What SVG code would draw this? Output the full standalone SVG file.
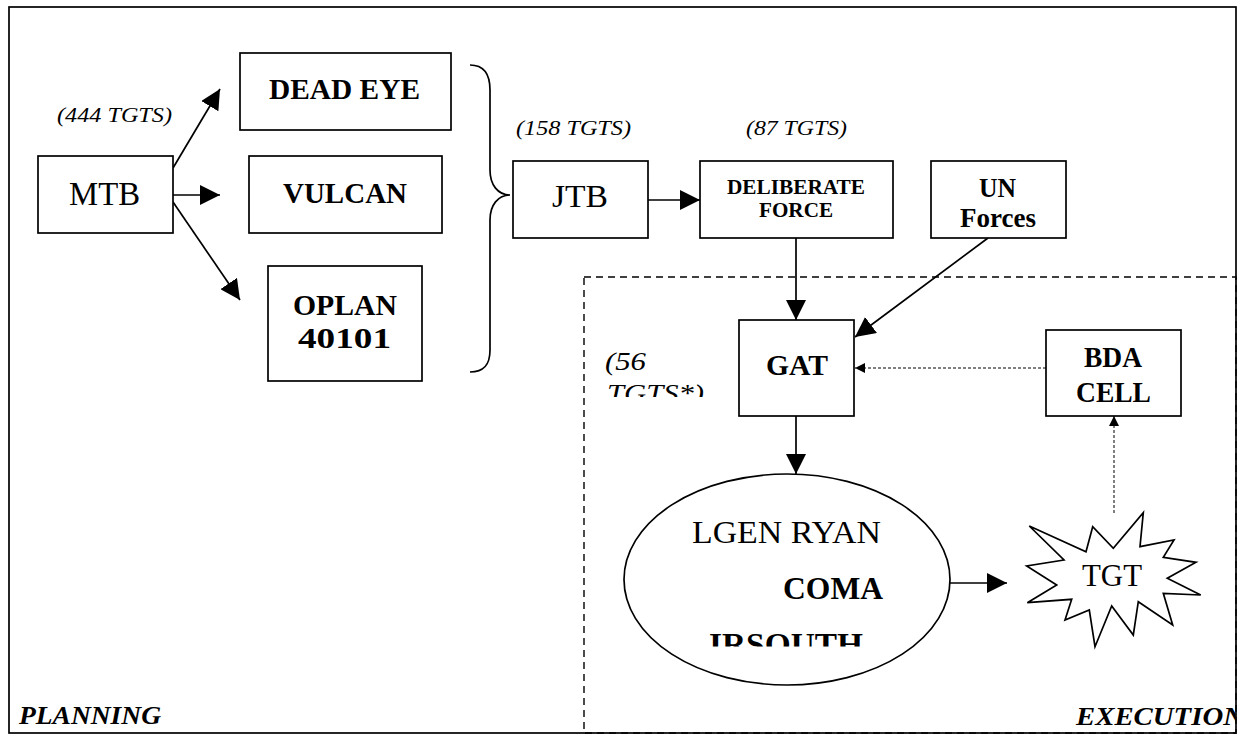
<svg xmlns="http://www.w3.org/2000/svg" width="1238" height="738" viewBox="0 0 1238 738">
<style>
text{font-family:"Liberation Serif","Times New Roman",serif;fill:#000}
.b{font-weight:bold}
.i{font-style:italic}
.box{fill:#fff;stroke:#000;stroke-width:1.7}
.ln{fill:none;stroke:#000;stroke-width:1.7}
.dl{fill:none;stroke:#000;stroke-width:1;stroke-dasharray:3,2}
</style>
<defs>
<marker id="ah" markerWidth="20" markerHeight="20" refX="20" refY="10" orient="auto" markerUnits="userSpaceOnUse" viewBox="0 0 20 20">
<path d="M0,0 L20,10 L0,20 Z" fill="#000"/>
</marker>
<marker id="ahs" markerWidth="10" markerHeight="10" refX="10" refY="5" orient="auto" markerUnits="userSpaceOnUse" viewBox="0 0 10 10">
<path d="M0,0 L10,5 L0,10 Z" fill="#000"/>
</marker>
<clipPath id="c56"><rect x="595" y="340" width="120" height="57"/></clipPath>
<clipPath id="cir"><rect x="690" y="620" width="200" height="26.5"/></clipPath>
<clipPath id="cex"><rect x="1000" y="690" width="235.5" height="45"/></clipPath>
</defs>
<rect x="0" y="0" width="1238" height="738" fill="#fff"/>
<g id="frame">
<rect x="9" y="7" width="1227" height="726" fill="none" stroke="#000" stroke-width="1.7"/>
<rect id="execution-area" x="584" y="277" width="652" height="456" fill="none" stroke="#000" stroke-width="1.4" stroke-dasharray="7,5"/>
</g>
<g id="connectors">
<line class="ln" x1="173" y1="168" x2="220" y2="89" marker-end="url(#ah)"/>
<line class="ln" x1="173" y1="195" x2="220" y2="195" marker-end="url(#ah)"/>
<line class="ln" x1="173" y1="202" x2="240" y2="300" marker-end="url(#ah)"/>
<path class="ln" d="M470,65 C484,65 490,75 490,90 L490,170 C490,185 498,195 510,195 C498,195 490,205 490,220 L490,350 C490,365 484,372 470,372"/>
<line class="ln" x1="648" y1="200" x2="700" y2="200" marker-end="url(#ah)"/>
<line class="ln" x1="796" y1="238" x2="796" y2="320" marker-end="url(#ah)"/>
<line class="ln" x1="988" y1="238" x2="855" y2="337" marker-end="url(#ah)"/>
<line class="dl" x1="1046" y1="368" x2="855" y2="368" marker-end="url(#ahs)"/>
<line class="ln" x1="796" y1="416" x2="796" y2="474" marker-end="url(#ah)"/>
<line class="ln" x1="950" y1="583" x2="1007" y2="583" marker-end="url(#ah)"/>
<line class="dl" x1="1114" y1="513" x2="1114" y2="416" marker-end="url(#ahs)"/>
</g>
<g id="label-444"><text class="i" x="57" y="122" font-size="20" textLength="115" lengthAdjust="spacingAndGlyphs">(444 TGTS)</text></g>
<g id="mtb">
<rect class="box" x="38" y="156" width="135" height="77"/>
<text x="69" y="205" font-size="33" textLength="71" lengthAdjust="spacingAndGlyphs">MTB</text>
</g>
<g id="dead-eye">
<rect class="box" x="240" y="53" width="211" height="77"/>
<text class="b" x="269" y="99" font-size="29" textLength="151" lengthAdjust="spacingAndGlyphs">DEAD EYE</text>
</g>
<g id="vulcan">
<rect class="box" x="249" y="156" width="193" height="77"/>
<text class="b" x="283" y="203" font-size="29" textLength="124" lengthAdjust="spacingAndGlyphs">VULCAN</text>
</g>
<g id="oplan">
<rect class="box" x="268" y="266" width="154" height="115"/>
<text class="b" x="293" y="315" font-size="30" textLength="104" lengthAdjust="spacingAndGlyphs">OPLAN</text>
<text class="b" x="298" y="348" font-size="30" textLength="93" lengthAdjust="spacingAndGlyphs">40101</text>
</g>
<g id="label-158"><text class="i" x="516" y="135" font-size="22" textLength="115" lengthAdjust="spacingAndGlyphs">(158 TGTS)</text></g>
<g id="label-87"><text class="i" x="746" y="135" font-size="22" textLength="101" lengthAdjust="spacingAndGlyphs">(87 TGTS)</text></g>
<g id="jtb">
<rect class="box" x="513" y="161" width="135" height="77"/>
<text x="552" y="207" font-size="32" textLength="56" lengthAdjust="spacingAndGlyphs">JTB</text>
</g>
<g id="deliberate-force">
<rect class="box" x="700" y="161" width="193" height="77"/>
<text class="b" x="727" y="194" font-size="22" textLength="138" lengthAdjust="spacingAndGlyphs">DELIBERATE</text>
<text class="b" x="759" y="217" font-size="22" textLength="74" lengthAdjust="spacingAndGlyphs">FORCE</text>
</g>
<g id="un-forces">
<rect class="box" x="931" y="161" width="135" height="77"/>
<text class="b" x="979" y="197" font-size="28" textLength="37" lengthAdjust="spacingAndGlyphs">UN</text>
<text class="b" x="960" y="227" font-size="28" textLength="76" lengthAdjust="spacingAndGlyphs">Forces</text>
</g>
<g id="label-56" clip-path="url(#c56)">
<text class="i" x="605" y="370" font-size="25" textLength="41" lengthAdjust="spacingAndGlyphs">(56</text>
<text class="i" x="607" y="402" font-size="25" textLength="97" lengthAdjust="spacingAndGlyphs">TGTS*)</text>
</g>
<g id="gat">
<rect class="box" x="739" y="320" width="115" height="96"/>
<text class="b" x="766" y="375" font-size="29" textLength="62" lengthAdjust="spacingAndGlyphs">GAT</text>
</g>
<g id="bda-cell">
<rect class="box" x="1046" y="330" width="135" height="86"/>
<text class="b" x="1084" y="367" font-size="29" textLength="58" lengthAdjust="spacingAndGlyphs">BDA</text>
<text class="b" x="1076" y="402" font-size="29" textLength="75" lengthAdjust="spacingAndGlyphs">CELL</text>
</g>
<g id="comairsouth">
<ellipse cx="787" cy="579.5" rx="163" ry="105.5" fill="#fff" stroke="#000" stroke-width="1.7"/>
<text x="692" y="543" font-size="32" textLength="189" lengthAdjust="spacingAndGlyphs">LGEN RYAN</text>
<text class="b" x="783" y="599" font-size="32" textLength="100" lengthAdjust="spacingAndGlyphs">COMA</text>
<text class="b" x="709" y="655" font-size="32" textLength="154" lengthAdjust="spacingAndGlyphs" clip-path="url(#cir)">IRSOUTH</text>
</g>
<g id="tgt">
<polygon points="1029.3,526 1086,551.7 1092.7,526.7 1113.3,548.3 1143.3,512.7 1140,546.7 1174,540 1163.3,557.3 1196,562.3 1167.3,578.3 1200.7,595 1163.3,593.3 1172.7,625 1138.3,601.7 1133.3,635 1111.7,606 1095,646.7 1089.3,610 1065,620 1071.7,599.3 1027.3,602.7 1056.7,585 1026.7,566 1064,560" fill="#fff" stroke="#000" stroke-width="1.7" stroke-linejoin="miter"/>
<text x="1082" y="586" font-size="31" textLength="60" lengthAdjust="spacingAndGlyphs">TGT</text>
</g>
<g id="label-planning"><text class="b i" x="19" y="724" font-size="25" textLength="142" lengthAdjust="spacingAndGlyphs">PLANNING</text></g>
<g id="label-execution" clip-path="url(#cex)"><text class="b i" x="1076" y="725" font-size="25" textLength="168" lengthAdjust="spacingAndGlyphs">EXECUTION</text></g>
</svg>
